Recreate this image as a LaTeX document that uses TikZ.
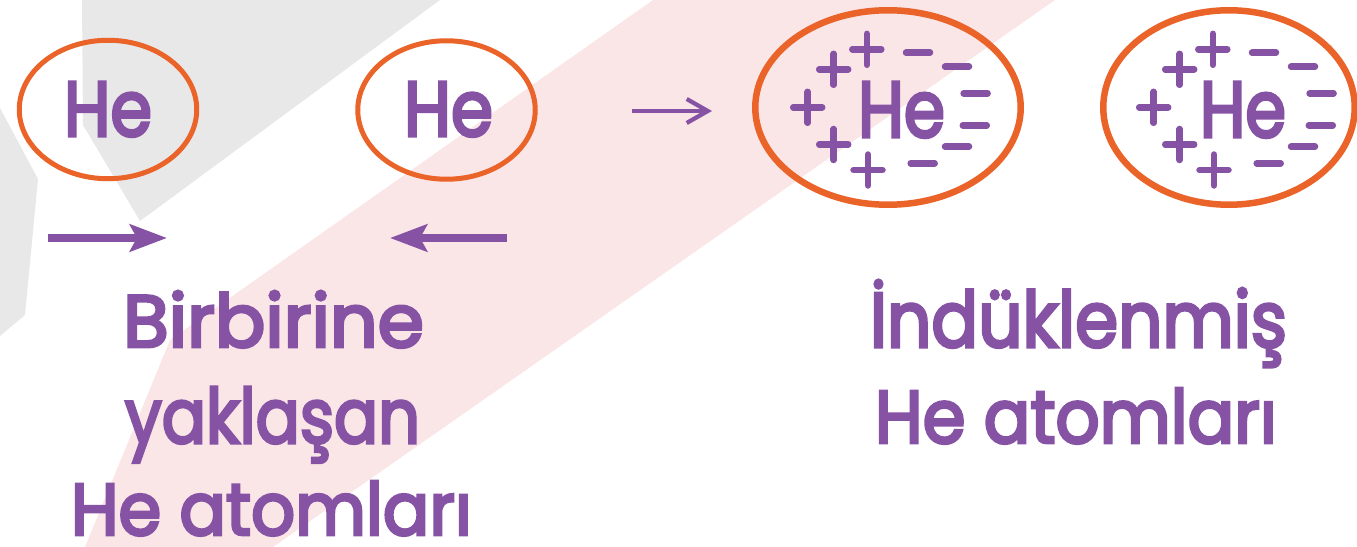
\documentclass[tikz,border=0pt]{standalone}
\usepackage{fontspec}
\setmainfont{Poppins}
\newfontfamily\hefont{Poppins}[FakeBold=4]
\usetikzlibrary{arrows.meta,shapes.geometric}
\definecolor{hepurple}{HTML}{8652A3}
\definecolor{heorange}{HTML}{EA6329}
\definecolor{wmgray}{HTML}{E8E8E8}
\definecolor{wmpink}{HTML}{FBE6E7}
\tikzset{
  ring/.style={ellipse, draw=heorange, inner sep=0pt, outer sep=0pt},
  smallring/.style={ring, line width=0.1cm, minimum width=3.55cm, minimum height=2.77cm},
  largering/.style={ring, line width=0.13cm, minimum height=3.89cm},
  txt/.style={inner sep=0pt, outer sep=0pt, text=hepurple, anchor=base west, font=\hefont},
  bigarrow/.style={draw=hepurple, line width=0.16cm, -{Stealth[length=0.74cm,width=0.54cm,inset=0.14cm]}},
  thinarrow/.style={draw=hepurple, line width=0.085cm, -{Straight Barb[length=0.42cm,width=0.48cm]}},
  charge/.style={draw=hepurple, line width=0.13cm, line cap=round},
}
\newcommand\pplus[2]{\draw[charge] ({#1-14.5},#2) -- ({#1+14.5},#2) (#1,{#2-15.5}) -- (#1,{#2+15.5});}
\newcommand\mminus[2]{\draw[charge] ({#1-12},#2) -- ({#1+12},#2);}
\begin{document}
\begin{tikzpicture}[x=0.02cm,y=-0.02cm]
\useasboundingbox (0,0) rectangle (1357,547);
% watermark
\fill[wmgray] (82,0) -- (440,0) -- (140,221) -- (83,125) -- cycle;
\fill[wmgray] (0,108) -- (38,179) -- (25,315) -- (0,336) -- cycle;
\fill[wmpink] (653,0) -- (1055,0) -- (273,547) -- (85,547) -- (170,340) -- cycle;
% left pair
\node[smallring] (e1) at (108,109.5) {};
\node[smallring] (e2) at (446.5,110) {};
\node[txt] (h1) at (64,136) {\resizebox{1.76cm}{1.08cm}{He}};
\node[txt] (h2) at (404,136) {\resizebox{1.78cm}{1.08cm}{He}};
\coordinate (a1s) at (48,238);
\coordinate (a1e) at (167,238);
\coordinate (a2s) at (507,238);
\coordinate (a2e) at (390,238);
\draw[bigarrow] (a1s) -- (a1e);
\draw[bigarrow] (a2s) -- (a2e);
% middle arrow
\coordinate (a3s) at (632,111);
\coordinate (a3e) at (712,111);
\draw[thinarrow] (a3s) -- (a3e);
% induced pair
\node[largering, minimum width=5.31cm] (e3) at (888,107.5) {};
\node[largering, minimum width=5.03cm] (e4) at (1229,107.5) {};
\node[txt] (h3) at (858,137) {\resizebox{1.74cm}{1.10cm}{He}};
\node[txt] (h4) at (1200,137) {\resizebox{1.72cm}{1.10cm}{He}};
\foreach \dx in {0,346}{
  \pplus{833.7+\dx}{69.3}
  \pplus{866.8+\dx}{49.3}
  \pplus{807.7+\dx}{107.3}
  \pplus{833.7+\dx}{144.5}
  \pplus{868+\dx}{170}
  \mminus{918+\dx}{52.7}
  \mminus{957+\dx}{66.7}
  \mminus{975.6+\dx}{93.3}
  \mminus{974.8+\dx}{125.3}
  \mminus{957+\dx}{146.7}
  \mminus{922.7+\dx}{163.3}
}
% captions
\node[txt] (t1) at (123,347) {\resizebox{6.02cm}{1.12cm}{Birbirine}};
\node[txt] (t2) at (125,443) {\resizebox{5.90cm}{1.12cm}{yaklaşan}};
\node[txt] (t3) at (71,535) {\resizebox{8.02cm}{1.08cm}{He atomları}};
\node[txt] (t4) at (870,347) {\resizebox{8.34cm}{1.34cm}{İndüklenmiş}};
\node[txt] (t5) at (875,443) {\resizebox{8.04cm}{1.10cm}{He atomları}};
\end{tikzpicture}
\end{document}
